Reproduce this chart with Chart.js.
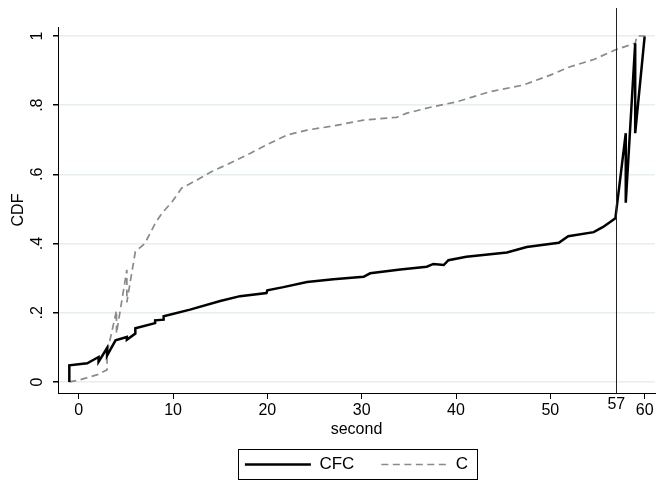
<!DOCTYPE html>
<html>
<head>
<meta charset="utf-8">
<script src="https://cdn.jsdelivr.net/npm/chart.js@4.4.1/dist/chart.umd.min.js"></script>
<style>
  html, body { margin: 0; padding: 0; background: #fff; }
  #wrap { width: 658px; height: 485px; }
</style>
</head>
<body>
<div id="wrap"><canvas id="cdf" width="658" height="485"></canvas></div>
<script>
// CDF of seconds, CFC vs C

const cfcSeconds = [-1.0, -1.0, 0.9, 2.1, 2.1, 3.0, 3.0, 3.9, 5.1, 5.1, 6.0, 6.0, 8.1, 8.1, 9.0, 9.0,
  11.8, 15.0, 17.1, 19.9, 20.0, 21.7, 24.2, 27.0, 30.2, 30.9, 34.1, 36.9, 37.6, 38.7, 39.2,
  41.1, 45.4, 47.5, 50.9, 51.9, 54.6, 55.6, 56.9, 58.0, 58.0, 59.0, 59.0, 60.0];
const cfcCdf = [0.000, 0.048, 0.054, 0.072, 0.058, 0.098, 0.076, 0.120, 0.130, 0.122, 0.140, 0.155, 0.170, 0.178, 0.180, 0.190,
  0.209, 0.234, 0.248, 0.257, 0.265, 0.274, 0.289, 0.297, 0.304, 0.314, 0.325, 0.333, 0.341, 0.338, 0.352,
  0.362, 0.374, 0.390, 0.402, 0.421, 0.433, 0.448, 0.473, 0.719, 0.518, 0.979, 0.719, 0.998];

const cSeconds = [-1.0, 0.0, 2.1, 3.0, 3.0, 4.0, 4.0, 5.1, 5.1, 6.0, 7.0, 8.1, 8.8, 9.9, 10.9, 12.2, 14.1,
  16.4, 18.2, 19.9, 22.1, 24.2, 27.0, 30.2, 33.7, 34.8, 37.3, 40.1, 43.6, 47.1, 50.0, 52.1, 54.6,
  56.9, 59.0, 59.2, 60.0, 60.0];
const cCdf = [0.000, 0.005, 0.022, 0.035, 0.083, 0.206, 0.140, 0.324, 0.230, 0.377, 0.400, 0.458, 0.487, 0.521, 0.560, 0.579, 0.608,
  0.637, 0.661, 0.685, 0.714, 0.728, 0.740, 0.757, 0.765, 0.777, 0.794, 0.810, 0.839, 0.858, 0.887, 0.911, 0.932,
  0.960, 0.979, 1.000, 1.000, 0.988];

const xTickValues = [0, 10, 20, 30, 40, 50, 57, 60];
const yTickValues = [0, 0.2, 0.4, 0.6, 0.8, 1];
const yTickLabels = ['0', '.2', '.4', '.6', '.8', '1'];
const cutoffSecond = 57;

const FONT = 'Liberation Sans, Arial, sans-serif';

function toPoints(xs, ys) {
  return xs.map((x, i) => ({ x: x, y: ys[i] }));
}

// vertical reference line (xline) drawn through the x scale
const xlinePlugin = {
  id: 'xline',
  afterDatasetsDraw(chart) {
    const { ctx, chartArea, scales } = chart;
    const px = Math.round(scales.x.getPixelForValue(cutoffSecond)) + 0.5;
    ctx.save();
    ctx.strokeStyle = '#222';
    ctx.lineWidth = 1;
    ctx.beginPath();
    ctx.moveTo(px, chartArea.bottom);
    ctx.lineTo(px, chartArea.top - 19);
    ctx.stroke();
    ctx.restore();
  }
};

// Stata-style frame around the legend
const legendFrame = {
  id: 'legendFrame',
  afterDraw(chart) {
    const boxes = chart.legend && chart.legend.legendHitBoxes;
    if (!boxes || !boxes.length) return;
    const first = boxes[0];
    const last = boxes[boxes.length - 1];
    const left = first.left - 7;
    const right = last.left + last.width + 9;
    const top = first.top - 7;
    const bottom = first.top + first.height + 6;
    const ctx = chart.ctx;
    ctx.save();
    ctx.strokeStyle = '#000';
    ctx.lineWidth = 1;
    ctx.strokeRect(Math.round(left) + 0.5, Math.round(top) + 0.5, Math.round(right - left), Math.round(bottom - top));
    ctx.restore();
  }
};

new Chart(document.getElementById('cdf'), {
  type: 'line',
  data: {
    datasets: [
      {
        label: 'CFC',
        data: toPoints(cfcSeconds, cfcCdf),
        borderColor: '#000',
        borderWidth: 2.5,
        pointRadius: 0,
        tension: 0,
        fill: false
      },
      {
        label: 'C',
        data: toPoints(cSeconds, cCdf),
        borderColor: '#8a8a8a',
        borderWidth: 1.7,
        borderDash: [7, 4.5],
        pointRadius: 0,
        tension: 0,
        fill: false
      }
    ]
  },
  options: {
    responsive: false,
    animation: false,
    layout: { padding: { top: 27, right: 3, left: 0, bottom: 2 } },
    plugins: {
      legend: {
        position: 'bottom',
        fullSize: false,
        labels: {
          color: '#000',
          font: { family: FONT, size: 17 },
          usePointStyle: true,
          pointStyle: 'line',
          pointStyleWidth: 66,
          padding: 27,
          // point style picks up point options, so copy the line's dash and width back in
          generateLabels: (chart) => {
            const items = Chart.defaults.plugins.legend.labels.generateLabels(chart);
            return items.map(item => {
              const ds = chart.data.datasets[item.datasetIndex];
              item.lineDash = ds.borderDash || [];
              item.lineWidth = ds.borderWidth;
              item.strokeStyle = ds.borderColor;
              return item;
            });
          }
        }
      },
      tooltip: { enabled: false }
    },
    scales: {
      x: {
        type: 'linear',
        min: -2.2,
        max: 61.1,
        afterBuildTicks: (scale) => { scale.ticks = xTickValues.map(v => ({ value: v })); },
        afterFit: (scale) => { scale.height = 36; },
        ticks: {
          color: '#000',
          // the 57 label sits a little higher than the others, as in the original
          font: (ctx) => ({ family: FONT, size: 16, lineHeight: ctx.tick && ctx.tick.value === cutoffSecond ? '7px' : 1.2 }),
          padding: 2,
          maxRotation: 0,
          autoSkip: false,
          callback: (v) => String(v)
        },
        grid: {
          drawOnChartArea: false,
          tickLength: 6,
          tickColor: (ctx) => ctx.tick && ctx.tick.value === cutoffSecond ? 'rgba(0,0,0,0)' : '#000'
        },
        border: { color: '#000', width: 1 },
        title: { display: true, text: 'second', color: '#000', font: { family: FONT, size: 16 }, padding: { top: 0, bottom: -10.5 } }
      },
      y: {
        min: -0.032,
        max: 1.026,
        afterBuildTicks: (scale) => { scale.ticks = yTickValues.map(v => ({ value: v })); },
        afterFit: (scale) => { scale.width = 58; },
        ticks: {
          color: '#000',
          font: { family: FONT, size: 16 },
          minRotation: 90,
          maxRotation: 90,
          crossAlign: 'center',
          padding: 9,
          autoSkip: false,
          callback: (v) => yTickLabels[yTickValues.indexOf(v)] ?? ''
        },
        grid: { color: '#e6eef0', lineWidth: 1.5, tickLength: 5, tickColor: '#000' },
        border: { color: '#000', width: 1 },
        title: { display: true, text: 'CDF', color: '#000', font: { family: FONT, size: 16 }, padding: { top: 8.5, bottom: 0 } }
      }
    }
  },
  plugins: [xlinePlugin, legendFrame]
});
</script>
</body>
</html>
